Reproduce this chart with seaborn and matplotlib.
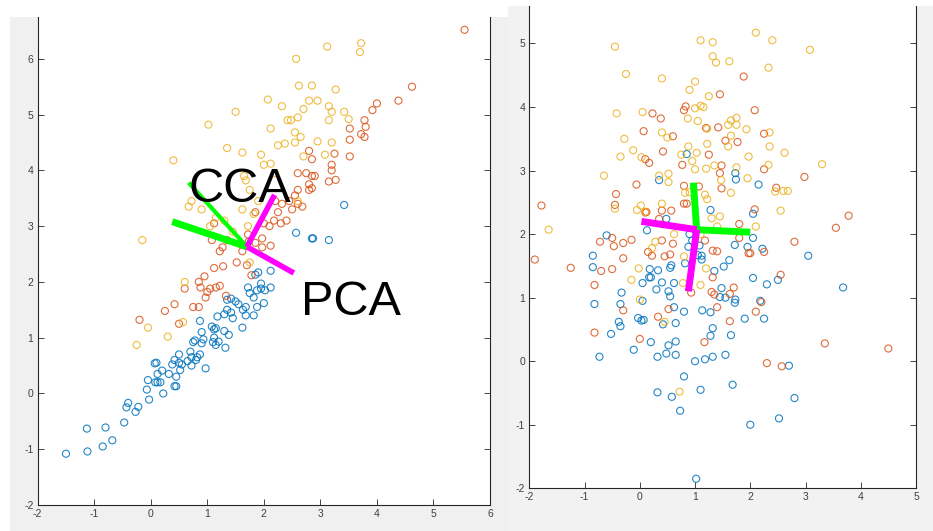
import matplotlib
matplotlib.use("Agg")
import matplotlib.pyplot as plt
from matplotlib.patches import Rectangle
import pandas as pd
import seaborn as sns

# ---- left panel (correlated data) ----
left_blue_x = [-1.5, -1.13, -1.12, -0.8, -0.85, -0.68, -0.47, -0.4, -0.43, -0.27, -0.22, -0.05, -0.07, -0.03,
               0.07, 0.1, 0.08, 0.12, 0.12, 0.17, 0.2, 0.22, 0.32, 0.38, 0.42, 0.42, 0.45, 0.45, 0.5, 0.5,
               0.52, 0.55, 0.65, 0.7, 0.72, 0.72, 0.75, 0.78, 0.8, 0.82, 0.87, 0.9, 0.93, 0.9, 0.87, 0.97,
               1.1, 1.12, 1.08, 1.15, 1.12, 1.15, 1.2, 1.18, 1.32, 1.3, 1.38, 1.3, 1.35, 1.42, 1.45, 1.35,
               1.42, 1.5, 1.55, 1.62, 1.63, 1.68, 1.68, 1.72, 1.75, 1.82, 1.82, 1.88, 1.85, 1.9, 1.88, 1.95,
               1.95, 2.0, 2.02, 2.12, 2.12, 2.57, 2.85, 2.87, 3.15, 3.42]
left_blue_y = [-1.08, -0.63, -1.04, -0.61, -0.95, -0.84, -0.52, -0.17, -0.25, -0.33, -0.24, 0.24, 0.07, -0.11,
               0.54, 0.55, 0.2, 0.35, 0.2, 0.2, 0.41, 0.0, 0.35, 0.52, 0.6, 0.13, 0.13, 0.3, 0.55, 0.7,
               0.42, 0.52, 0.58, 0.75, 0.65, 0.5, 0.92, 0.95, 0.6, 0.65, 0.7, 0.9, 0.97, 1.1, 1.3, 0.45,
               0.92, 1.15, 1.2, 1.17, 1.0, 0.87, 0.93, 1.38, 0.82, 1.12, 1.05, 1.42, 1.5, 1.45, 1.35, 1.68,
               1.7, 1.65, 1.6, 1.18, 1.5, 1.55, 1.4, 1.9, 1.8, 1.4, 1.72, 1.55, 2.13, 2.17, 1.85, 1.88,
               1.97, 1.62, 1.85, 1.9, 2.2, 2.88, 2.78, 2.78, 2.75, 3.38]

left_red_x = [-0.2, 0.25, 0.42, 0.5, 0.6, 0.75, 0.85, 0.85, 0.88, 0.95, 0.97, 1.0, 1.05, 1.15, 1.22, 1.12,
              1.28, 1.08, 1.12, 1.22, 1.27, 1.35, 1.33, 1.52, 1.62, 1.7, 1.72, 1.73, 1.78, 1.85, 1.85, 1.97,
              1.97, 2.12, 2.0, 2.1, 2.18, 2.25, 2.2, 2.32, 2.3, 2.4, 2.45, 2.5, 2.55, 2.6, 2.6, 2.68,
              2.6, 2.75, 2.85, 2.9, 2.8, 2.8, 2.85, 2.8, 2.85, 3.15, 3.2, 3.2, 3.27, 3.25, 3.52, 3.52,
              3.52, 3.72, 3.78, 3.8, 3.78, 4.0, 3.92, 4.38, 4.62, 5.55]
left_red_y = [1.32, 1.48, 1.6, 1.25, 1.88, 1.55, 1.55, 2.0, 1.9, 2.1, 1.72, 1.82, 1.88, 1.9, 1.93, 2.25,
              2.28, 2.75, 3.05, 2.55, 2.62, 2.75, 1.75, 2.35, 2.55, 2.3, 2.85, 2.72, 2.12, 2.7, 3.25, 2.78,
              2.62, 2.65, 3.05, 3.0, 3.1, 3.25, 3.45, 3.4, 3.05, 3.1, 3.45, 3.3, 3.55, 3.65, 3.4, 3.35,
              3.95, 3.95, 3.9, 3.9, 3.75, 3.65, 3.68, 4.35, 4.2, 3.8, 4.0, 4.1, 3.83, 4.3, 4.25, 4.55,
              4.75, 4.65, 4.6, 4.78, 4.9, 5.2, 5.08, 5.25, 5.5, 6.52]

left_yellow_x = [-0.25, -0.05, -0.15, 0.3, 0.57, 0.6, 0.4, 0.67, 0.72, 0.9, 1.02, 1.35, 1.5, 1.62, 1.65,
                 1.68, 1.75, 1.62, 1.72, 1.75, 1.82, 1.9, 1.95, 2.0, 2.12, 2.07, 2.12, 2.32, 2.25, 2.37,
                 2.42, 2.48, 2.55, 2.55, 2.6, 2.65, 2.7, 2.57, 2.62, 2.85, 2.8, 2.95, 2.95, 3.12, 3.27,
                 3.15, 3.2, 3.15, 3.2, 3.08, 3.42, 3.5, 3.7, 3.72, 2.6, 2.2, 1.15, 1.05, 1.3, 1.45, 2.7]
left_yellow_y = [0.87, 1.18, 2.75, 1.02, 1.28, 2.0, 4.18, 3.35, 3.45, 3.3, 4.82, 4.4, 5.05, 4.32, 3.9,
                 3.82, 3.65, 3.3, 3.0, 2.35, 3.22, 3.45, 4.28, 4.1, 4.12, 5.27, 4.75, 5.15, 4.45, 4.48,
                 4.9, 4.9, 4.68, 4.5, 4.95, 4.6, 5.1, 6.0, 5.52, 5.52, 5.25, 5.25, 4.52, 6.22, 5.45,
                 5.15, 5.05, 4.9, 4.5, 4.28, 5.05, 4.92, 6.12, 6.28, 3.45, 3.95, 3.15, 3.0, 3.1, 2.9, 4.25]

# CCA / PCA directions, left panel: (start, end) points
left_center = (1.70, 2.63)
left_cca_ends = [(0.38, 3.08), (0.67, 3.78)]
left_pca_ends = [(2.19, 3.56), (2.53, 2.16)]

# ---- right panel (decorrelated data) ----
right_blue_x = [1.02, 2.0, 2.52, 2.8, 0.73, 0.32, 0.58, 0.8, 1.1, 1.68, 2.7, 0.32, 0.48, 0.65, 1.0, 1.18,
                1.32, 1.55, -0.73, -0.11, -0.52, 0.2, 0.52, 0.65, 1.28, 1.32, 1.65, -0.35, -0.38, -0.03,
                0.03, 0.07, 0.42, 0.65, 1.9, 2.25, -0.82, -0.35, -0.33, 0.05, 0.62, 0.8, 1.13, 1.28, 1.45,
                1.55, 1.72, 1.73, 2.18, -0.85, -0.85, 0.05, 0.17, 0.2, 0.18, 0.33, 0.3, 0.4, 0.52, 0.55,
                0.55, 0.57, 0.62, 0.82, 1.12, 1.12, 1.05, 1.35, 1.52, 1.48, 1.62, 2.05, 2.3, 2.5, 3.05,
                3.68, -0.6, 0.13, 0.88, 0.95, 1.08, 1.72, 1.95, 2.05, 2.22, 2.05, 2.15, 1.73, 1.74, 1.28,
                0.48, 0.35, 0.85, 0.9]
right_blue_y = [-1.85, -1.0, -0.9, -0.58, -0.78, -0.49, -0.56, -0.24, -0.45, -0.37, -0.07, 0.07, 0.12, 0.1,
                0.0, 0.03, 0.07, 0.1, 0.07, 0.18, 0.43, 0.3, 0.25, 0.31, 0.4, 0.52, 0.41, 0.55, 0.62, 0.68,
                0.64, 0.65, 0.58, 0.6, 0.67, 0.67, 0.9, 0.9, 1.08, 0.95, 0.85, 0.78, 0.8, 0.77, 1.01,
                1.0, 0.92, 0.97, 0.95, 1.48, 1.66, 1.23, 1.32, 1.32, 1.45, 1.43, 1.13, 1.24, 1.1, 1.02,
                1.47, 1.51, 1.23, 1.54, 1.6, 1.66, 1.67, 1.42, 1.49, 1.15, 1.59, 1.31, 1.21, 1.28, 1.66,
                1.16, 1.98, 2.06, 1.8, 1.9, 1.82, 1.83, 1.8, 1.94, 1.77, 2.32, 2.78, 2.96, 2.86, 2.38,
                2.24, 2.85, 3.26, 2.0]

right_red_x = [-1.9, -1.78, -1.25, -0.82, -0.82, -0.7, -0.72, -0.5, -0.5, -0.47, -0.3, -0.3, -0.3, -0.15,
               -0.45, -0.43, -0.06, 0.07, 0.1, 0.17, 0.23, 0.38, 0.42, 0.6, 0.77, 0.8, 0.83, 0.8, 0.8,
               0.85, 0.4, 0.57, 0.12, 0.1, 0.35, 0.4, 0.6, 0.55, 0.45, 0.15, 0.22, 0.52, 0.33, 0.0,
               1.17, 1.3, 1.35, 1.4, 1.63, 1.63, 1.7, 1.32, 1.32, 1.4, 1.18, 1.8, 1.97, 2.0, 2.25, 2.2,
               2.1, 2.55, 2.8, 3.55, 3.78, 3.35, 4.5, 2.3, 2.57, 0.93, 1.8, 2.08, 2.47, 1.48, 1.45, 1.48,
               1.25, 1.07, 1.2, 1.42, 1.55, 1.77, 2.25, 2.25, 2.08, 1.45, 1.88, 2.98]
right_red_y = [1.6, 2.45, 1.47, 1.2, 0.45, 1.42, 1.88, 1.45, 1.94, 1.81, 1.86, 1.62, 0.8, 1.91,
               2.46, 2.63, 2.78, 3.62, 3.18, 3.12, 3.9, 3.82, 3.3, 3.54, 3.09, 3.95, 4.01, 2.76, 2.48,
               2.48, 2.37, 2.37, 2.35, 2.34, 2.24, 1.9, 1.85, 1.68, 1.65, 1.72, 1.66, 0.82, 0.7, 0.35,
               0.3, 1.09, 1.05, 0.85, 0.63, 1.06, 1.16, 1.32, 1.74, 1.73, 1.9, 1.94, 1.7, 1.7, 1.72, 0.93,
               0.78, 1.36, 1.88, 2.1, 2.29, 0.28, 0.2, -0.03, -0.08, 1.08, 2.16, 2.39, 2.73, 2.72, 2.96, 3.08,
               3.25, 2.75, 3.67, 3.68, 3.47, 3.45, 3.58, 3.02, 3.95, 4.2, 4.48, 2.9]

right_yellow_x = [-1.65, -0.45, -0.25, -0.42, -0.28, -0.35, -0.12, 0.03, -0.65, -0.45, 0.05, 0.4, 0.5, 0.4,
                  0.35, 0.52, 0.52, 0.4, 0.02, -0.05, 0.1, 0.28, 0.22, 0.62, -0.02, -0.15, 0.0, 0.45, 0.78,
                  0.72, 0.82, 0.9, 0.75, 0.88, 0.95, 1.0, 1.03, 0.87, 1.0, 1.1, 1.15, 1.05, 0.9, 1.0, 1.25,
                  1.1, 1.32, 1.32, 1.38, 1.62, 2.1, 2.4, 2.33, 3.08, 1.22, 1.22, 1.2, 1.35, 1.47, 1.6, 1.65,
                  1.6, 1.75, 1.65, 1.75, 1.93, 2.35, 2.35, 1.97, 2.33, 2.62, 1.75, 1.95, 1.65, 2.45, 2.6,
                  2.68, 2.55, 3.3, 2.1, 1.18, 1.22, 1.45, 1.3, 1.4, 1.1, 1.2, 1.1, 0.8]
right_yellow_y = [2.07, 4.95, 4.52, 3.9, 3.5, 3.22, 3.32, 3.21, 2.92, 2.4, 3.92, 3.6, 3.52, 4.45,
                  2.92, 2.95, 2.82, 2.48, 2.45, 2.38, 2.35, 1.88, 1.78, 2.0, 1.46, 1.28, 0.97, 0.62, 1.23,
                  -0.48, 2.65, 2.66, 3.25, 3.38, 3.15, 3.02, 3.28, 3.82, 3.98, 4.02, 4.0, 3.78, 4.27, 4.4, 4.17,
                  5.05, 5.02, 4.8, 4.7, 4.72, 5.17, 5.05, 4.62, 4.9, 3.42, 3.66, 3.03, 3.08, 2.85, 3.38, 3.55,
                  3.72, 3.72, 3.79, 3.83, 3.65, 3.6, 3.38, 3.22, 3.09, 3.28, 3.05, 2.88, 2.65, 2.67, 2.68,
                  2.68, 2.37, 3.1, 2.12, 2.62, 2.55, 2.28, 2.25, 2.12, 2.0, 1.46, 1.2, 1.65]

right_center = (1.03, 2.07)
right_cca_ends = [(0.97, 2.81), (2.0, 2.03)]
right_pca_ends = [(0.03, 2.20), (0.88, 1.10)]

classes = ["c1", "c2", "c3"]
palette = {"c1": "#0072BD", "c2": "#D95319", "c3": "#EDB120"}


def make_frame(bx, by, rx, ry, yx, yy):
    return pd.DataFrame({
        "x": bx + rx + yx,
        "y": by + ry + yy,
        "cls": ["c1"] * len(bx) + ["c2"] * len(rx) + ["c3"] * len(yx),
    })


left_df = make_frame(left_blue_x, left_blue_y, left_red_x, left_red_y, left_yellow_x, left_yellow_y)
right_df = make_frame(right_blue_x, right_blue_y, right_red_x, right_red_y, right_yellow_x, right_yellow_y)

sns.set_style("white")
plt.rcParams["font.family"] = ["Liberation Sans", "DejaVu Sans"]
plt.rcParams["axes.unicode_minus"] = False

fig = plt.figure(figsize=(9.33, 5.31), dpi=100)
fig.patch.set_facecolor("white")
W, H = 933.0, 531.0
# grey window backgrounds of the two screenshots
fig.patches.append(Rectangle((10 / W, 0), 498 / W, (H - 17) / H, transform=fig.transFigure,
                             facecolor="#f0f0f0", edgecolor="none", zorder=-10))
fig.patches.append(Rectangle((508 / W, 0), 425 / W, (H - 6) / H, transform=fig.transFigure,
                             facecolor="#f2f2f2", edgecolor="none", zorder=-10))

ax1 = fig.add_axes([37.7 / W, 26 / H, 452.3 / W, 488 / H])
ax2 = fig.add_axes([529.3 / W, 42.7 / H, 386.7 / W, 482.3 / H])


def draw_points(ax, df):
    sns.scatterplot(data=df, x="x", y="y", hue="cls", hue_order=classes, palette=palette,
                    s=26, linewidth=0.8, alpha=0.85, legend=False, ax=ax)
    pts = ax.collections[-1]
    fc = pts.get_facecolors()
    pts.set_edgecolors(fc)
    pts.set_facecolors("none")


def style_axes(ax, xlim, ylim, xticks, yticks):
    ax.set_xlim(*xlim)
    ax.set_ylim(*ylim)
    ax.set_xticks(xticks)
    ax.set_yticks(yticks)
    ax.set_xlabel("")
    ax.set_ylabel("")
    ax.set_facecolor("white")
    for side in ["left", "bottom", "right"]:
        ax.spines[side].set_visible(True)
        ax.spines[side].set_color("#262626")
        ax.spines[side].set_linewidth(0.8)
    ax.spines["top"].set_visible(False)
    ax.tick_params(direction="in", length=4, width=0.6, colors="#262626",
                   labelsize=7.5, labelcolor="#404040", left=True, right=True, bottom=True, top=False,
                   pad=3)


draw_points(ax1, left_df)
style_axes(ax1, (-2, 6), (-2, 6.75), range(-2, 7), range(-2, 7))
c = left_center
for e in left_cca_ends[:1]:
    ax1.plot([c[0], e[0]], [c[1], e[1]], color="#00ff00", lw=5, solid_capstyle="butt", zorder=5)
for e in left_cca_ends[1:]:
    ax1.plot([c[0], e[0]], [c[1], e[1]], color="#00ff00", lw=3, solid_capstyle="butt", zorder=5)
for e in left_pca_ends:
    ax1.plot([c[0], e[0]], [c[1], e[1]], color="#ff00ff", lw=4, solid_capstyle="butt", zorder=6)
ax1.text(0.66, 3.43, "CCA", fontsize=35, color="black", ha="left", va="baseline", zorder=7)
ax1.text(2.66, 1.41, "PCA", fontsize=35, color="black", ha="left", va="baseline", zorder=7)

draw_points(ax2, right_df)
style_axes(ax2, (-2, 5), (-2, 5.59), range(-2, 6), range(-2, 6))
c = right_center
for e in right_cca_ends:
    ax2.plot([c[0], e[0]], [c[1], e[1]], color="#00ff00", lw=5, solid_capstyle="butt", zorder=5)
for e in right_pca_ends:
    ax2.plot([c[0], e[0]], [c[1], e[1]], color="#ff00ff", lw=5, solid_capstyle="butt", zorder=6)

fig.savefig("out.png", dpi=100, facecolor=fig.get_facecolor())
